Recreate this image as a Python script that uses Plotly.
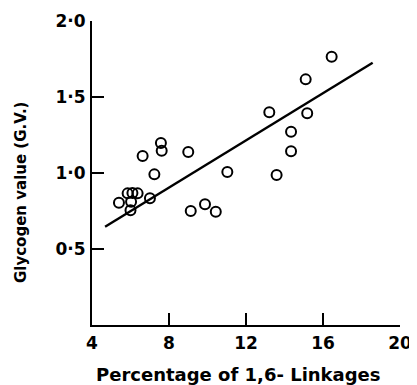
import plotly.graph_objects as go

# Data
linkage_pct = [5.40, 5.85, 6.10, 6.37, 6.03, 6.00, 7.01, 6.63, 7.24, 7.58, 7.62,
               9.00, 9.13, 9.87, 10.43, 11.03, 13.21, 13.59, 14.34, 14.34, 15.18,
               15.10, 16.45]
glycogen_value = [0.805, 0.866, 0.868, 0.866, 0.811, 0.755, 0.834, 1.112, 0.991,
                  1.197, 1.147, 1.138, 0.750, 0.794, 0.745, 1.007, 1.399, 0.987,
                  1.143, 1.272, 1.393, 1.616, 1.765]
fit_x = [4.68, 18.58]
fit_y = [0.647, 1.726]

x_ticks = [4, 8, 12, 16, 20]
x_tick_labels = ["4", "8", "12", "16", "20"]
y_ticks = [0.5, 1.0, 1.5, 2.0]
y_tick_labels = ["0·5", "1·0", "1·5", "2·0"]

x_title = "Percentage of 1,6- Linkages"
y_title = "Glycogen value (G.V.)"

# page body has an 8px margin, so offset the figure accordingly
OFF = 8
L, T, PW, PH = 92 - OFF, 21 - OFF, 308, 304

fig = go.Figure()
fig.add_trace(go.Scatter(x=fit_x, y=fit_y, mode="lines",
                         line=dict(color="black", width=2.4), showlegend=False))
fig.add_trace(go.Scatter(x=linkage_pct, y=glycogen_value, mode="markers",
                         marker=dict(symbol="circle-open", size=10, color="black",
                                     line=dict(width=2, color="black")),
                         showlegend=False))

fig.update_layout(
    width=417 - OFF, height=385 - OFF,
    margin=dict(l=L, r=417 - OFF - L - PW, t=T, b=385 - OFF - T - PH),
    paper_bgcolor="white", plot_bgcolor="white",
    font=dict(family="DejaVu Sans", color="black"),
    xaxis=dict(range=[4, 20], tickvals=x_ticks, ticktext=x_tick_labels,
               ticks="inside", ticklen=12, tickwidth=2, tickcolor="black",
               showline=True, linewidth=2, linecolor="black", showgrid=False,
               zeroline=False, tickfont=dict(size=17, weight="bold"),
               ticklabelstandoff=2, ticklabeloverflow="allow", automargin=False),
    yaxis=dict(range=[0, 2.0], tickvals=y_ticks, ticktext=y_tick_labels,
               ticks="inside", ticklen=12, tickwidth=2, tickcolor="black",
               showline=True, linewidth=2, linecolor="black", showgrid=False,
               zeroline=False, tickfont=dict(size=17, weight="bold"),
               ticklabelstandoff=1, ticklabeloverflow="allow", automargin=False),
    annotations=[
        dict(text=x_title, xref="paper", yref="paper", x=(238.5 - 92) / PW,
             y=-(374 - 325) / PH, xanchor="center", yanchor="middle",
             showarrow=False, font=dict(size=18, weight="bold")),
        dict(text=y_title, xref="paper", yref="paper", x=-(92 - 21) / PW,
             y=(325 - 193) / PH, xanchor="center", yanchor="middle",
             textangle=-90, showarrow=False, font=dict(size=15, weight="bold")),
    ],
)

fig.write_html("out.html")
